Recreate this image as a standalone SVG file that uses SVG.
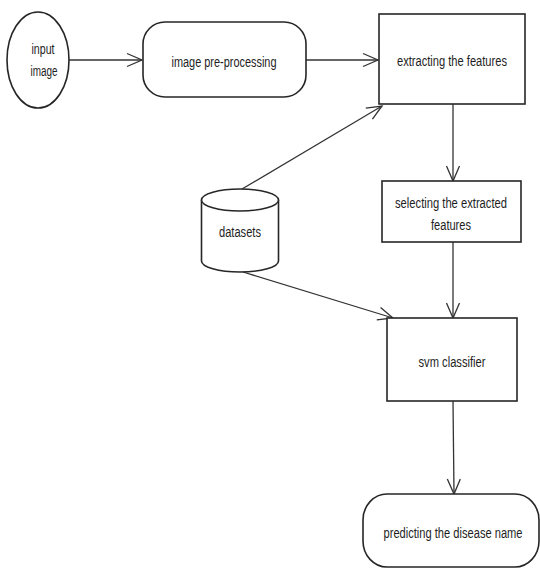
<svg xmlns="http://www.w3.org/2000/svg" width="540" height="568" viewBox="0 0 540 568">
<style>
.n{fill:#fff;stroke:#262626;stroke-width:1.6}
.t{font-family:"Liberation Sans",Arial,sans-serif;font-size:14px;fill:#1e1e1e;text-anchor:middle}
.c{fill:none;stroke:#333;stroke-width:1.3}
</style>
<defs>
<marker id="ah" markerUnits="userSpaceOnUse" markerWidth="20" markerHeight="20" viewBox="-16 -10 20 20" refX="0" refY="0" orient="auto">
<path d="M-15,-6.5 L0,0 L-15,6.5" fill="none" stroke="#333" stroke-width="1.3"/>
</marker>
</defs>
<rect width="540" height="568" fill="#fff"/>
<g id="connectors">
<line class="c" x1="69" y1="60" x2="142" y2="60" marker-end="url(#ah)"/>
<line class="c" x1="306" y1="60" x2="378" y2="60" marker-end="url(#ah)"/>
<line class="c" x1="242" y1="189" x2="382" y2="106" marker-end="url(#ah)"/>
<line class="c" x1="243" y1="272" x2="393" y2="318" marker-end="url(#ah)"/>
<line class="c" x1="453" y1="104" x2="453" y2="181" marker-end="url(#ah)"/>
<line class="c" x1="453" y1="242" x2="453" y2="318" marker-end="url(#ah)"/>
<line class="c" x1="453" y1="401" x2="454" y2="494" marker-end="url(#ah)"/>
</g>
<g id="input-image">
<ellipse class="n" cx="38" cy="60" rx="31" ry="48"/>
<text class="t" x="43" y="54" textLength="23" lengthAdjust="spacingAndGlyphs">input</text>
<text class="t" x="44" y="76" textLength="27" lengthAdjust="spacingAndGlyphs">image</text>
</g>
<g id="image-preprocessing">
<rect class="n" x="143" y="22" width="163" height="75" rx="22" ry="22"/>
<text class="t" x="224" y="67" textLength="105" lengthAdjust="spacingAndGlyphs">image pre-processing</text>
</g>
<g id="extracting-features">
<rect class="n" x="379" y="14" width="146" height="90"/>
<text class="t" x="452" y="66" textLength="110" lengthAdjust="spacingAndGlyphs">extracting the features</text>
</g>
<g id="selecting-features">
<rect class="n" x="382" y="181" width="139" height="61"/>
<text class="t" x="451" y="208" textLength="112" lengthAdjust="spacingAndGlyphs">selecting the extracted</text>
<text class="t" x="451" y="230" textLength="40" lengthAdjust="spacingAndGlyphs">features</text>
</g>
<g id="datasets">
<path class="n" d="M201.5,200 L201.5,261 A38.5,11 0 0 0 278.5,261 L278.5,200"/>
<ellipse class="n" cx="240" cy="200" rx="38.5" ry="11"/>
<text class="t" x="240" y="237" textLength="42" lengthAdjust="spacingAndGlyphs">datasets</text>
</g>
<g id="svm-classifier">
<rect class="n" x="387" y="318" width="130" height="83"/>
<text class="t" x="452" y="367" textLength="67" lengthAdjust="spacingAndGlyphs">svm classifier</text>
</g>
<g id="predicting-disease">
<rect class="n" x="363" y="494" width="176" height="73" rx="24" ry="26"/>
<text class="t" x="453" y="538" textLength="139" lengthAdjust="spacingAndGlyphs">predicting the disease name</text>
</g>
</svg>
